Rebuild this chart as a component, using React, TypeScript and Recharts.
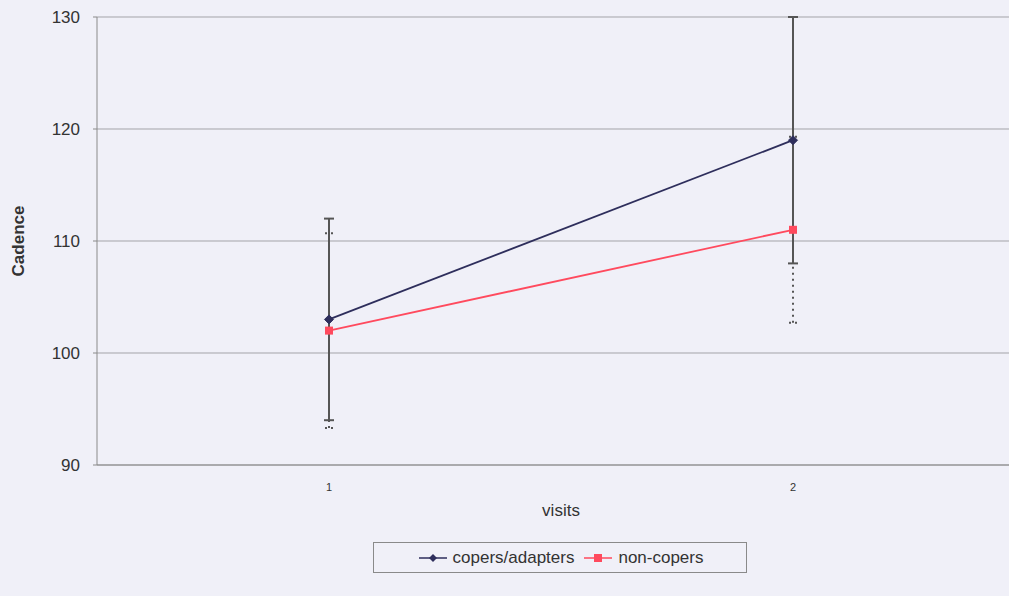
import React from 'react';
import { LineChart, Line, XAxis, YAxis, CartesianGrid, ErrorBar, Legend } from 'recharts';

const visits = ['1', '2'];
const copers = [103, 119];
const copersErr = [9, 11];
const nonCopers = [102, 111];
const nonCopersErr = [8.7, 8.3];
const yTicks = [90, 100, 110, 120, 130];

const data = visits.map((v, i) => ({
  visit: v,
  copers: copers[i],
  copersErr: copersErr[i],
  nonCopers: nonCopers[i],
  nonCopersErr: nonCopersErr[i],
}));

const NAVY = '#2e2e5c';
const RED = '#ff4a5e';
const FONT = '"Liberation Sans", Arial, sans-serif';

const Diamond = (props: any) => {
  const { cx, cy } = props;
  if (cx == null || cy == null) return null;
  const r = 4.5;
  return <polygon points={`${cx},${cy - r} ${cx + r},${cy} ${cx},${cy + r} ${cx - r},${cy}`} fill={NAVY} stroke={NAVY} />;
};

const Square = (props: any) => {
  const { cx, cy } = props;
  if (cx == null || cy == null) return null;
  const r = 4;
  return <rect x={cx - r} y={cy - r} width={2 * r} height={2 * r} fill={RED} stroke="none" />;
};

const LegendBox = () => (
  <div
    style={{
      border: '1px solid #8a8a8a',
      height: 31,
      display: 'flex',
      alignItems: 'center',
      justifyContent: 'center',
      fontFamily: FONT,
      fontSize: 17,
      color: '#333',
      boxSizing: 'border-box',
      whiteSpace: 'nowrap',
    }}
  >
    <svg width={32} height={12} style={{ marginRight: 4 }}>
      <line x1={2} y1={6} x2={30} y2={6} stroke={NAVY} strokeWidth={1.5} />
      <polygon points="16,2 20,6 16,10 12,6" fill={NAVY} />
    </svg>
    <span style={{ marginRight: 8 }}>copers/adapters</span>
    <svg width={32} height={12} style={{ marginRight: 4 }}>
      <line x1={2} y1={6} x2={30} y2={6} stroke={RED} strokeWidth={1.5} />
      <rect x={12} y={2} width={8} height={8} fill={RED} />
    </svg>
    <span>non-copers</span>
  </div>
);

const YLabel = (props: any) => {
  const vb = props.viewBox || {};
  const x = (vb.x ?? 0) + 18;
  const y = (vb.y ?? 0) + (vb.height ?? 0) / 2;
  return (
    <text
      x={x}
      y={y}
      transform={`rotate(-90, ${x}, ${y})`}
      textAnchor="middle"
      dominantBaseline="central"
      fontFamily={FONT}
      fontSize={17}
      fontWeight="bold"
      fill="#333"
    >
      Cadence
    </text>
  );
};

export default function App() {
  return (
    <div
      style={{
        position: 'absolute',
        left: 0,
        top: 0,
        width: 1009,
        height: 596,
        overflow: 'hidden',
        background: '#f0f0f8',
      }}
    >
      <LineChart
        width={1030}
        height={596}
        data={data}
        margin={{ top: 17, right: 5, left: 0, bottom: 71 }}
      >
        <CartesianGrid vertical={false} stroke="#a3a3a8" strokeWidth={1} />
        <XAxis
          dataKey="visit"
          scale="band"
          height={60}
          tickLine={false}
          axisLine={{ stroke: '#8a8a8a' }}
          tickMargin={12}
          tick={{ fontFamily: FONT, fontSize: 11, fill: '#333' }}
          label={{
            value: 'visits',
            position: 'insideBottom',
            offset: 9,
            style: { fontFamily: FONT, fontSize: 17, fill: '#333' },
          }}
        />
        <YAxis
          width={97}
          domain={[90, 130]}
          ticks={yTicks}
          tickSize={4}
          tickMargin={13}
          tickLine={{ stroke: '#8a8a8a' }}
          axisLine={{ stroke: '#8a8a8a' }}
          tick={{ fontFamily: FONT, fontSize: 17, fill: '#333' }}
          label={<YLabel />}
        />
        <Legend
          layout="horizontal"
          verticalAlign="middle"
          align="center"
          wrapperStyle={{ top: 542, left: 373, width: 374, height: 31 }}
          content={<LegendBox />}
        />
        <Line
          dataKey="nonCopers"
          name="non-copers"
          stroke={RED}
          strokeWidth={1.8}
          dot={<Square />}
          activeDot={false}
          isAnimationActive={false}
        >
          <ErrorBar dataKey="nonCopersErr" width={4} stroke="#555" strokeWidth={2} strokeDasharray="2 4" isAnimationActive={false} />
        </Line>
        <Line
          dataKey="copers"
          name="copers/adapters"
          stroke={NAVY}
          strokeWidth={1.8}
          dot={<Diamond />}
          activeDot={false}
          isAnimationActive={false}
        >
          <ErrorBar dataKey="copersErr" width={5} stroke="#555" strokeWidth={2} isAnimationActive={false} />
        </Line>
      </LineChart>
    </div>
  );
}
